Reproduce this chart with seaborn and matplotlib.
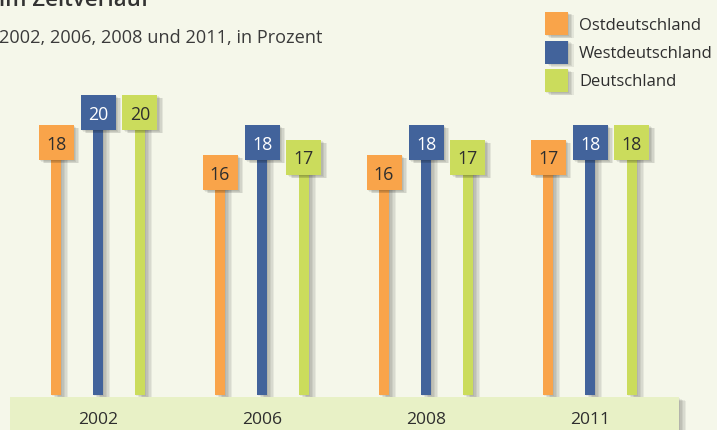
import matplotlib
matplotlib.use('Agg')
import matplotlib.pyplot as plt
import matplotlib.patheffects as pe
from matplotlib.patches import Rectangle
from matplotlib import font_manager
import seaborn as sns
import pandas as pd

# ---- data ----
years = ['2002', '2006', '2008', '2011']
ost = [18, 16, 16, 17]
west = [20, 18, 18, 18]
deutschland = [20, 17, 17, 18]
series_names = ['Ostdeutschland', 'Westdeutschland', 'Deutschland']
colors = ['#F9A44A', '#42639B', '#CBDC5C']
label_colors = ['#2e2e2e', '#ffffff', '#2e2e2e']
title_text = 'im Zeitverlauf'
subtitle_text = '2002, 2006, 2008 und 2011, in Prozent'

df = pd.DataFrame({
    'Jahr': years * 3,
    'Region': [n for n in series_names for _ in years],
    'Wert': ost + west + deutschland,
})

sns.set_theme(style='white')
FONT = ['Open Sans', 'DejaVu Sans']
plt.rcParams['font.family'] = FONT

BG = '#F5F7EA'
BAND = '#E8F1C6'
W, H = 717, 430
PX_X, PX_Y = 164.0, 15.0   # pixels per category unit / per value unit
X0_PX, Y0_PX = 98.0, 395.0  # pixel position of first category / value 0

fig = plt.figure(figsize=(W / 100, H / 100), dpi=100, facecolor=BG)
ax = fig.add_axes([0, 0, 1, 1])
ax.set_facecolor(BG)


def shadow(n=4, step=1.0, alpha=0.07):
    eff = [pe.SimplePatchShadow(offset=(step * (j + 1), -0.6 * step * (j + 1)),
                                shadow_rgbFace='black', alpha=alpha) for j in range(n)]
    return eff + [pe.Normal()]


sns.barplot(data=df, x='Jahr', y='Wert', hue='Region', order=years,
            hue_order=series_names, palette=colors, width=0.768, dodge=True,
            saturation=1, errorbar=None, legend=False, ax=ax)

ax.set_xlim(-X0_PX / PX_X, (W - X0_PX) / PX_X)
ax.set_ylim(-(H - Y0_PX) / PX_Y, Y0_PX / PX_Y)
ax.set_axis_off()

stem_w = 10 / PX_X
box_w = 35 / PX_X
box_h = 35 / PX_Y

for i, cont in enumerate(ax.containers):
    for bar in cont:
        cx = bar.get_x() + bar.get_width() / 2
        v = bar.get_height()
        bar.set_width(stem_w)
        bar.set_x(cx - stem_w / 2)
        bar.set_linewidth(0)
        bar.set_zorder(2)
        bar.set_path_effects(shadow(n=5, step=1.0, alpha=0.06))
        box = Rectangle((cx - box_w / 2, v - box_h), box_w, box_h,
                        facecolor=colors[i], edgecolor='none', zorder=3)
        box.set_path_effects(shadow(n=4, step=1.0, alpha=0.07))
        ax.add_patch(box)
        ax.text(cx, v - box_h / 2, f'{int(round(v))}', ha='center',
                va='center_baseline', fontsize=12.8, color=label_colors[i],
                zorder=6)

# bottom band with year labels
band_top = (Y0_PX - 397) / PX_Y
band = Rectangle(((10 - X0_PX) / PX_X, -4), 669 / PX_X, band_top + 4,
                 facecolor=BAND, edgecolor='none', zorder=4)
band.set_path_effects(shadow(n=5, step=1.0, alpha=0.06))
ax.add_patch(band)
for j, yr in enumerate(years):
    ax.text(j, (Y0_PX - 418) / PX_Y, yr, ha='center', va='center_baseline',
            fontsize=12.6, color='#2e2e2e', zorder=6)


def fx(px):
    return px / W


def fy(py):
    return 1 - py / H


# title / subtitle
fig.text(fx(-1), fy(6), title_text, ha='left', va='baseline',
         fontsize=16, fontweight='semibold', color='#333333')
fig.text(fx(-1), fy(43), subtitle_text, ha='left', va='baseline',
         fontsize=13.1, color='#3a3a3a')

# legend
sq = 23
for i, name in enumerate(series_names):
    top = 12 + i * 28.5
    r = Rectangle((fx(545), fy(top + sq)), sq / W, sq / H,
                  transform=fig.transFigure, facecolor=colors[i],
                  edgecolor='none', zorder=3)
    r.set_path_effects(shadow(n=4, step=1.0, alpha=0.07))
    fig.add_artist(r)
    fig.text(fx(579), fy(top + sq / 2), name, ha='left', va='center_baseline',
             fontsize=12, color='#2e2e2e')

fig.savefig('out.png', dpi=100, facecolor=BG)
